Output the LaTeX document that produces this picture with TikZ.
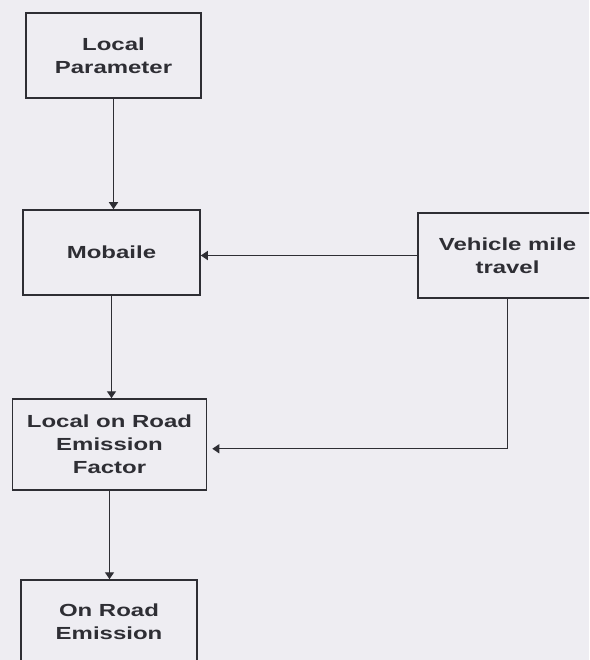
\documentclass[tikz,border=0pt]{standalone}
\usepackage{fontspec}
\newfontfamily\boxfont[FakeStretch=1.37]{Liberation Sans}
\usetikzlibrary{arrows.meta,calc}
\definecolor{paper}{HTML}{EEEDF2}
\definecolor{ink}{HTML}{2E2E34}
\tikzset{
  flowbox/.style={draw=ink, line width=1.5pt, fill=paper, inner sep=0pt, align=center,
    text=ink, font=\boxfont\bfseries\fontsize{17.5}{23}\selectfont},
  flowarrow/.style={draw=ink, line width=1.3pt, -{Triangle[width=9pt,length=7pt]}}
}
\begin{document}
\begin{tikzpicture}[x=1pt,y=-1pt]
\fill[paper] (0,0) rectangle (589,660);
\clip (0,0) rectangle (589,660);
\node[flowbox, minimum width=175pt, minimum height=85pt] (lp) at (113.5,55.5) {Local\\Parameter};
\node[flowbox, minimum width=177pt, minimum height=85pt] (mob) at (111.5,252.5) {Mobaile};
\node[flowbox, minimum width=179pt, minimum height=85pt] (veh) at (507.5,255.5) {Vehicle mile\\travel};
\node[flowbox, minimum width=194pt, minimum height=91pt] (lore) at (109.5,444.5) {Local on Road\\Emission\\Factor};
\node[flowbox, minimum width=176pt, minimum height=84pt] (ore) at (109,622) {On Road\\Emission};
\draw[flowarrow] (lp.south) -- (lp.south |- mob.north);
\draw[flowarrow] (mob.south) -- (mob.south |- lore.north);
\draw[flowarrow] (lore.south) -- (lore.south |- ore.north);
\draw[flowarrow] (veh.west) -- (veh.west -| mob.east);
\coordinate (vturn) at ($(veh.south)+(0,150)$);
\draw[flowarrow] (veh.south) -- (vturn) -- ($(vturn -| lore.east)+(5,0)$);
\end{tikzpicture}
\end{document}
